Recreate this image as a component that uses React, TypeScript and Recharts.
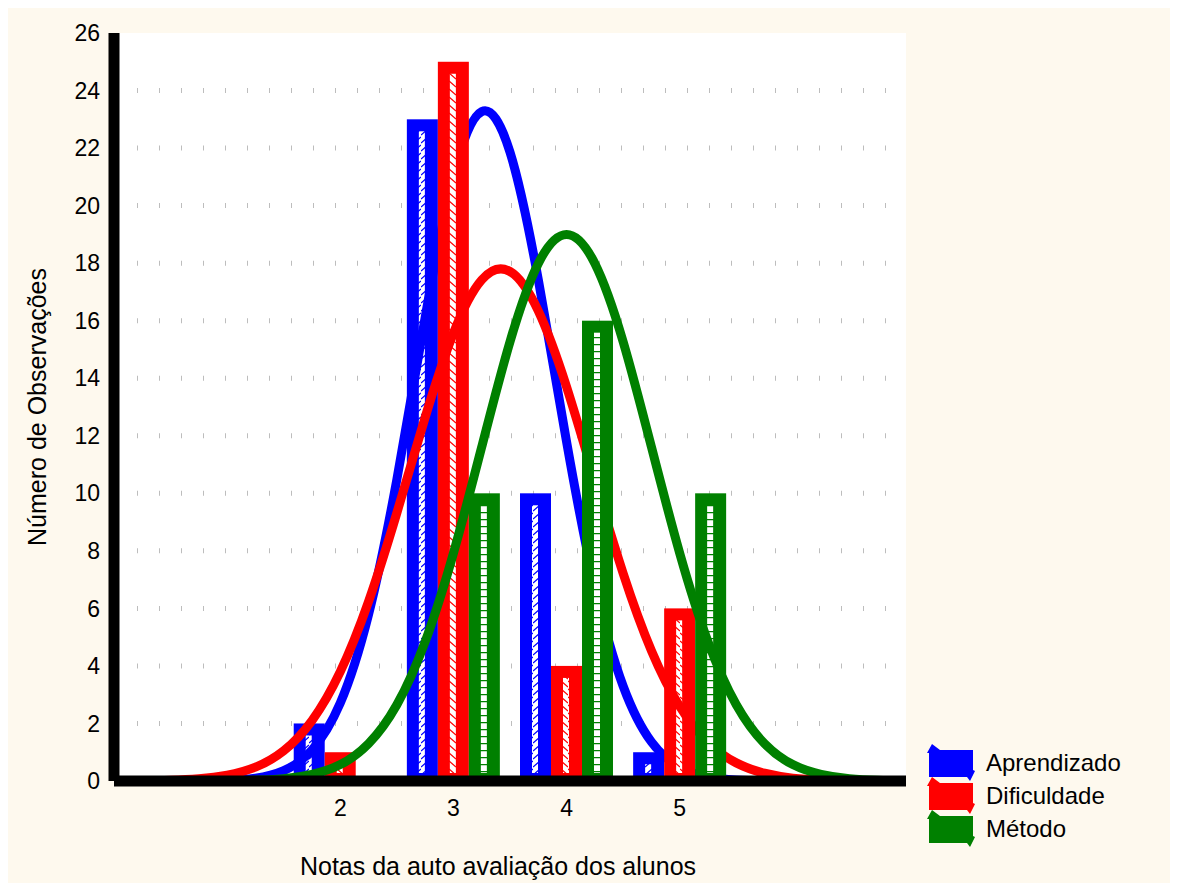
import {
  ComposedChart,
  Line,
  Bar,
  XAxis,
  YAxis,
  CartesianGrid,
  Legend,
} from "recharts";

// histogram counts per grade
const categories = [2, 3, 4, 5];
const aprendizado = [2, 23, 10, 1];
const dificuldade = [1, 25, 4, 6];
const metodo = [0, 10, 16, 10];

// fitted normal curves, every 0.25
const curveX = [
  0, 0.25, 0.5, 0.75, 1, 1.25, 1.5, 1.75, 2, 2.25, 2.5, 2.75, 3, 3.25, 3.5,
  3.75, 4, 4.25, 4.5, 4.75, 5, 5.25, 5.5, 5.75, 6, 6.25, 6.5, 6.75, 7,
];
const aprendizadoCurve = [
  0, 0, 0.001, 0.005, 0.025, 0.1, 0.36, 1.08, 2.71, 5.79, 10.48, 16.11, 21.02,
  23.27, 21.86, 17.43, 11.79, 6.77, 3.3, 1.36, 0.48, 0.14, 0.036, 0.008, 0.001,
  0, 0, 0, 0,
];
const dificuldadeCurve = [
  0.002, 0.008, 0.025, 0.075, 0.2, 0.48, 1.05, 2.1, 3.8, 6.24, 9.32, 12.64,
  15.57, 17.42, 17.71, 16.34, 13.7, 10.43, 7.22, 4.53, 2.59, 1.34, 0.63, 0.27,
  0.1, 0.037, 0.012, 0.003, 0.001,
];
const metodoCurve = [
  0, 0, 0, 0.002, 0.007, 0.025, 0.08, 0.23, 0.57, 1.3, 2.65, 4.84, 7.92, 11.61,
  15.27, 17.99, 19.0, 17.99, 15.27, 11.61, 7.92, 4.84, 2.65, 1.3, 0.57, 0.23,
  0.08, 0.025, 0.007,
];

const yTicks = [0, 2, 4, 6, 8, 10, 12, 14, 16, 18, 20, 22, 24, 26];
const gridLevels = [2, 4, 6, 8, 10, 12, 14, 16, 18, 20, 22, 24];

const series = [
  { key: "aprendizado", name: "Aprendizado", color: "#0000ff", pattern: "hatchBlue", curve: aprendizadoCurve },
  { key: "dificuldade", name: "Dificuldade", color: "#ff0000", pattern: "hatchRed", curve: dificuldadeCurve },
  { key: "metodo", name: "Método", color: "#008000", pattern: "ladderGreen", curve: metodoCurve },
];

const barRows = categories.map((c, i) => ({
  x: c,
  aprendizado: aprendizado[i],
  dificuldade: dificuldade[i],
  metodo: metodo[i],
}));

const toCurve = (vals: number[]) => curveX.map((x, i) => ({ x, v: vals[i] }));

function framedBar(color: string, pattern: string) {
  return (props: any) => {
    const { x, y, width, height } = props;
    if (!height || height <= 0) return <g />;
    const innerH = height - 12 - 8;
    return (
      <g>
        <rect x={x} y={y} width={width} height={height} fill={color} />
        {innerH > 0 && (
          <rect
            x={x + 12}
            y={y + 12}
            width={Math.max(width - 25, 1)}
            height={innerH}
            fill={`url(#${pattern})`}
          />
        )}
      </g>
    );
  };
}

function LegendBox() {
  return (
    <div>
      {series.map((s) => (
        <div
          key={s.key}
          style={{ display: "flex", alignItems: "center", height: 33 }}
        >
          <svg width={49} height={38}>
            <polygon
              points="0,9 5,0 13,6 46,6 46,26 48,27 43,37 40,33 2,33 2,9"
              fill={s.color}
            />
          </svg>
          <span style={{ marginLeft: 10, fontSize: 24, color: "#000" }}>
            {s.name}
          </span>
        </div>
      ))}
    </div>
  );
}

export default function App() {
  return (
    <div
      style={{
        width: 1170,
        height: 875,
        background: "#fef9ee",
        fontFamily: "'Liberation Sans', Arial, sans-serif",
      }}
    >
      <style>{"html,body{overflow:hidden}"}</style>
      <ComposedChart
        width={1170}
        height={875}
        data={barRows}
        margin={{ top: 25, right: 272, bottom: 62, left: 0 }}
        barGap={0}
      >
        <defs>
          <pattern id="hatchBlue" patternUnits="userSpaceOnUse" width={7} height={8}>
            <rect width={7} height={8} fill="#fff" />
            <line x1={0} y1={7} x2={7} y2={1} stroke="#0000ff" strokeWidth={1.3} />
          </pattern>
          <pattern id="hatchRed" patternUnits="userSpaceOnUse" width={7} height={8}>
            <rect width={7} height={8} fill="#fff" />
            <line x1={0} y1={1} x2={7} y2={7} stroke="#ff0000" strokeWidth={1.3} />
          </pattern>
          <pattern id="ladderGreen" patternUnits="userSpaceOnUse" width={7} height={7}>
            <rect width={7} height={7} fill="#fff" />
            <line x1={0} y1={0.5} x2={7} y2={0.5} stroke="#008000" strokeWidth={1.5} />
          </pattern>
        </defs>
        <CartesianGrid
          xAxisId="main"
          vertical={false}
          fill="#ffffff"
          horizontalValues={gridLevels}
          stroke="#bdbdbd"
          strokeWidth={5}
          strokeDasharray="1 21"
          strokeDashoffset={21}
        />
        <XAxis
          xAxisId="bars"
          dataKey="x"
          type="number"
          domain={[0, 7]}
          height={0}
          hide
        />
        {/* each variable: its bars first, then its fitted curve */}
        {series.flatMap((s, i) => [
          <Bar
            key={`bar-${s.key}`}
            xAxisId="bars"
            dataKey={s.key}
            name={s.name}
            barSize={31}
            fill={s.color}
            shape={framedBar(s.color, s.pattern)}
            isAnimationActive={false}
            zIndex={100 + i * 20}
          />,
          <Line
            key={`curve-${s.key}`}
            xAxisId="main"
            data={toCurve(s.curve)}
            dataKey="v"
            type="natural"
            stroke={s.color}
            strokeWidth={9}
            dot={false}
            activeDot={false}
            legendType="none"
            isAnimationActive={false}
            zIndex={110 + i * 20}
          />,
        ])}
        <XAxis
          xAxisId="main"
          dataKey="x"
          type="number"
          domain={[0, 7]}
          ticks={categories}
          interval={0}
          allowDataOverflow
          height={40}
          tickLine={false}
          tickSize={0}
          tickMargin={19}
          axisLine={{ stroke: "#000", strokeWidth: 11 }}
          tick={{ fontSize: 23, fill: "#000" }}
          label={{
            value: "Notas da auto avaliação dos alunos",
            position: "bottom",
            offset: 36,
            dx: -12,
            fontSize: 25,
            fill: "#000",
          }}
        />
        <YAxis
          type="number"
          domain={[0, 26]}
          ticks={yTicks}
          interval={0}
          width={106}
          tickLine={false}
          tickSize={0}
          tickMargin={14}
          axisLine={{ stroke: "#000", strokeWidth: 11 }}
          tick={{ fontSize: 23, fill: "#000" }}
          label={{
            value: "Número de Observações",
            angle: -90,
            position: "center",
            dx: -24,
            fontSize: 25,
            fill: "#000",
          }}
        />
        <Legend
          layout="vertical"
          align="center"
          verticalAlign="middle"
          wrapperStyle={{ left: 919, top: 738, width: 240 }}
          content={() => <LegendBox />}
        />
      </ComposedChart>
    </div>
  );
}
